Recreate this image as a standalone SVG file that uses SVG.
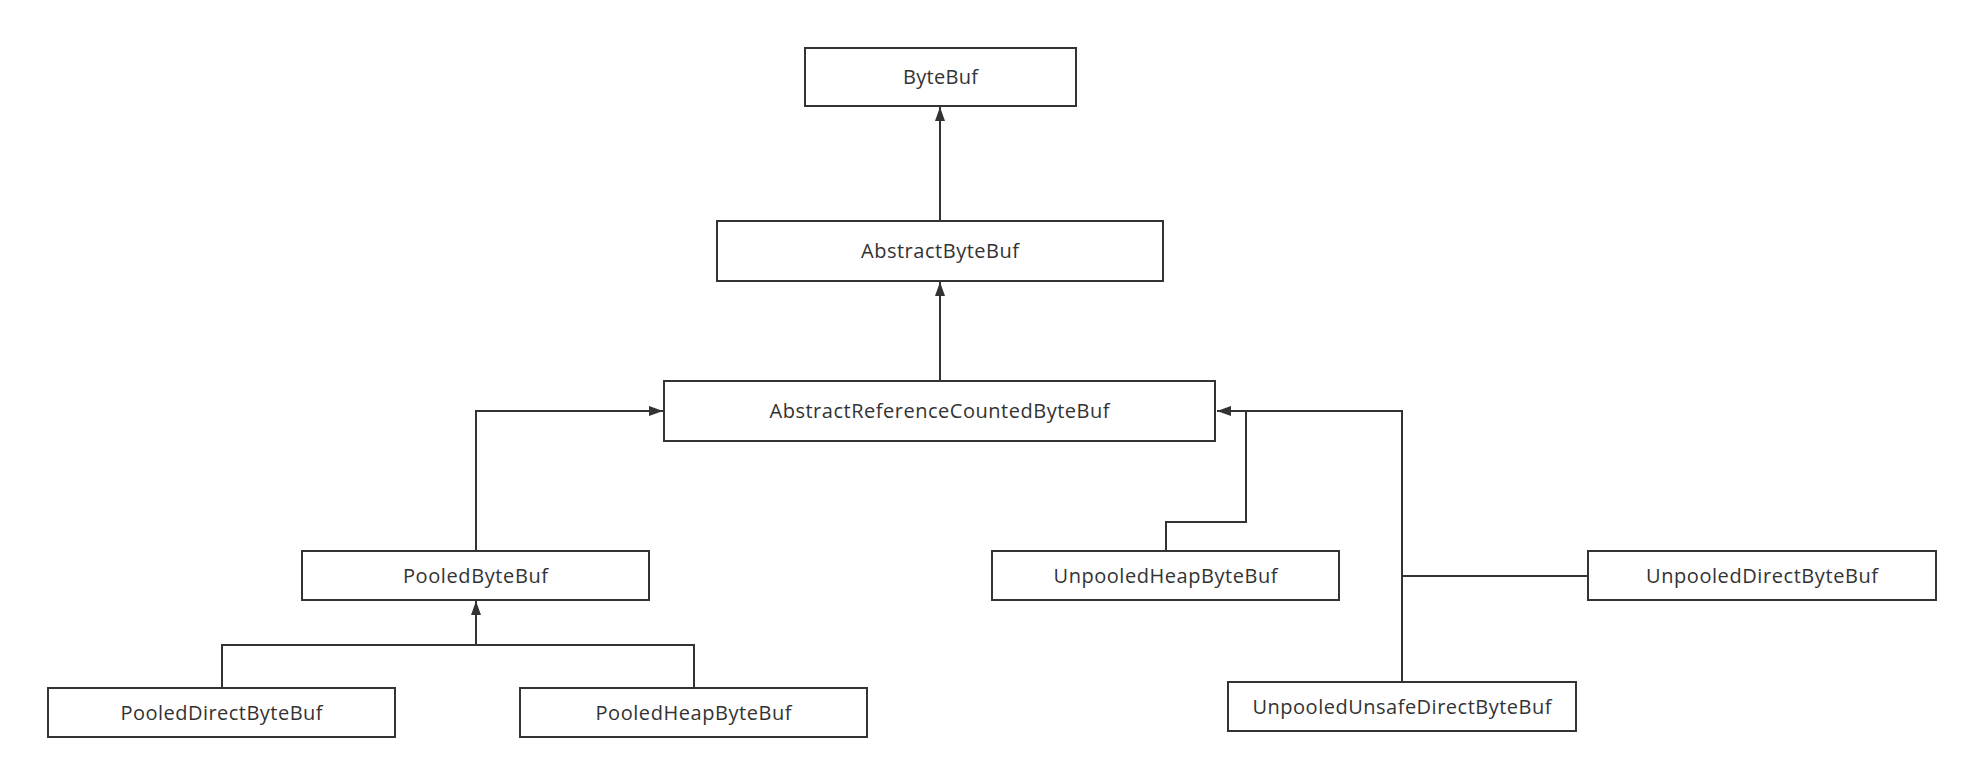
<svg xmlns="http://www.w3.org/2000/svg" width="1969" height="769" viewBox="0 0 1969 769">
<style>
.box{fill:#fff;stroke:#333;stroke-width:2}
.lbl{font-family:"Open Sans","Noto Sans",sans-serif;font-size:20px;fill:#333;text-anchor:middle}
.ln{fill:none;stroke:#333;stroke-width:2}
</style>
<defs>
<marker id="arr" viewBox="0 0 14 10" refX="14" refY="5" markerWidth="14" markerHeight="10" markerUnits="userSpaceOnUse" orient="auto">
<path d="M0,0 L14,5 L0,10 Z" fill="#333"/>
</marker>
</defs>
<rect width="1969" height="769" fill="#fff"/>
<g id="connectors">
<path class="ln" d="M940,221 V107" marker-end="url(#arr)"/>
<path class="ln" d="M940,381 V282" marker-end="url(#arr)"/>
<path class="ln" d="M476,551 V411 H663" marker-end="url(#arr)"/>
<path class="ln" d="M222,688 V645 H694 V688"/>
<path class="ln" d="M476,645 V601" marker-end="url(#arr)"/>
<path class="ln" d="M1166,551 V522 H1246 V411 H1402 V682"/>
<path class="ln" d="M1246,411 H1217" marker-end="url(#arr)"/>
<path class="ln" d="M1402,576 H1588"/>
</g>
<g id="ByteBuf"><rect class="box" x="805" y="48" width="271" height="58"/><text class="lbl" x="940.5" y="84" textLength="75">ByteBuf</text></g>
<g id="AbstractByteBuf"><rect class="box" x="717" y="221" width="446" height="60"/><text class="lbl" x="940" y="258" textLength="158">AbstractByteBuf</text></g>
<g id="AbstractReferenceCountedByteBuf"><rect class="box" x="664" y="381" width="551" height="60"/><text class="lbl" x="939.5" y="418" textLength="340">AbstractReferenceCountedByteBuf</text></g>
<g id="PooledByteBuf"><rect class="box" x="302" y="551" width="347" height="49"/><text class="lbl" x="475.5" y="582.5" textLength="145">PooledByteBuf</text></g>
<g id="PooledDirectByteBuf"><rect class="box" x="48" y="688" width="347" height="49"/><text class="lbl" x="221.5" y="719.5" textLength="202">PooledDirectByteBuf</text></g>
<g id="PooledHeapByteBuf"><rect class="box" x="520" y="688" width="347" height="49"/><text class="lbl" x="693.5" y="719.5" textLength="196">PooledHeapByteBuf</text></g>
<g id="UnpooledHeapByteBuf"><rect class="box" x="992" y="551" width="347" height="49"/><text class="lbl" x="1165.5" y="582.5" textLength="224">UnpooledHeapByteBuf</text></g>
<g id="UnpooledDirectByteBuf"><rect class="box" x="1588" y="551" width="348" height="49"/><text class="lbl" x="1762" y="582.5" textLength="232">UnpooledDirectByteBuf</text></g>
<g id="UnpooledUnsafeDirectByteBuf"><rect class="box" x="1228" y="682" width="348" height="49"/><text class="lbl" x="1402" y="713.5" textLength="299">UnpooledUnsafeDirectByteBuf</text></g>
</svg>
